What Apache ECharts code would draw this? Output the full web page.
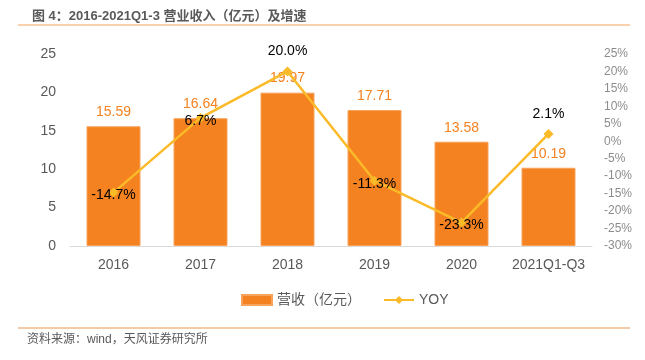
<!DOCTYPE html>
<html><head><meta charset="utf-8">
<script src="https://cdn.jsdelivr.net/npm/echarts@6/dist/echarts.min.js"></script>
<style>html,body{margin:0;padding:0;background:#fff;}#c{width:645px;height:360px;}</style>
</head><body><div id="c"></div>
<script>
const categories = ['2016','2017','2018','2019','2020','2021Q1-Q3'];
const revenue = [15.59, 16.64, 19.97, 17.71, 13.58, 10.19];
const yoy = [-14.7, 6.7, 20.0, -11.3, -23.3, 2.1];
const yoyLabelPos = ['inside','inside','top','inside','inside','top'];
const leftTicks = {min:0, max:25, interval:5};
const rightTicks = {min:-30, max:25, interval:5};

const chart = echarts.init(document.getElementById('c'));
const FONT = '"Helvetica Neue", Arial, "Liberation Sans", "Noto Sans CJK SC", sans-serif';
chart.setOption({
  animation:false,
  textStyle:{fontFamily:FONT},
  title:{
    text:'图 4：2016-2021Q1-3 营业收入（亿元）及增速',
    left:27, top:5,
    textStyle:{fontSize:13, fontWeight:'bold', color:'#595959', fontFamily:FONT}
  },
  graphic:[
    {type:'line', shape:{x1:18,y1:25,x2:630,y2:25}, style:{stroke:'#F4A460', lineWidth:1.2}},
    {type:'line', shape:{x1:18,y1:328,x2:630,y2:328}, style:{stroke:'#E8964A', lineWidth:1.2}},
    {type:'text', left:27, top:334, style:{text:'资料来源：wind，天风证券研究所', fill:'#595959', font:'12px '+FONT}}
  ],
  legend:{
    top:288, left:236,
    itemGap:22,
    textStyle:{fontSize:14, color:'#595959'},
    data:[
      {name:'营收（亿元）', icon:'rect', itemStyle:{color:'#F58220'}},
      {name:'YOY'}
    ],
    itemWidth:30, itemHeight:10
  },
  grid:{left:70, right:53, top:54, bottom:114},
  xAxis:{
    type:'category', data:categories,
    axisLine:{lineStyle:{color:'#d9d9d9', width:1}},
    axisTick:{show:false},
    axisLabel:{fontSize:14, color:'#595959', margin:12, interval:0}
  },
  yAxis:[
    {type:'value', min:leftTicks.min, max:leftTicks.max, interval:leftTicks.interval,
     splitLine:{show:false}, axisLine:{show:false}, axisTick:{show:false},
     axisLabel:{fontSize:14, color:'#595959', margin:14}},
    {type:'value', position:'right', min:rightTicks.min, max:rightTicks.max, interval:rightTicks.interval,
     splitLine:{show:false}, axisLine:{show:false}, axisTick:{show:false},
     axisLabel:{fontSize:12, color:'#8c8c8c', margin:12, formatter: v => v + '%'}}
  ],
  series:[
    {name:'营收（亿元）', type:'bar', data:revenue, barWidth:54, yAxisIndex:0,
     itemStyle:{color:'#F58220', borderColor:'#F7A35C', borderWidth:1},
     label:{show:true, position:'top', color:'#F58220', fontSize:14, distance:7, formatter: p => p.value.toFixed(2)}},
    {name:'YOY', type:'line', yAxisIndex:1, symbol:'diamond', symbolSize:10,
     lineStyle:{color:'#FBBA27', width:2.5}, itemStyle:{color:'#FBBA27'},
     data: yoy.map((v,i)=>({value:v, label:{position:yoyLabelPos[i], offset: yoyLabelPos[i]==='inside'?[0,3]:[0,0]}})),
     label:{show:true, color:'#000', fontSize:14, distance:8, formatter: p => p.value.toFixed(1)+'%'}}
  ]
});
</script></body></html>
